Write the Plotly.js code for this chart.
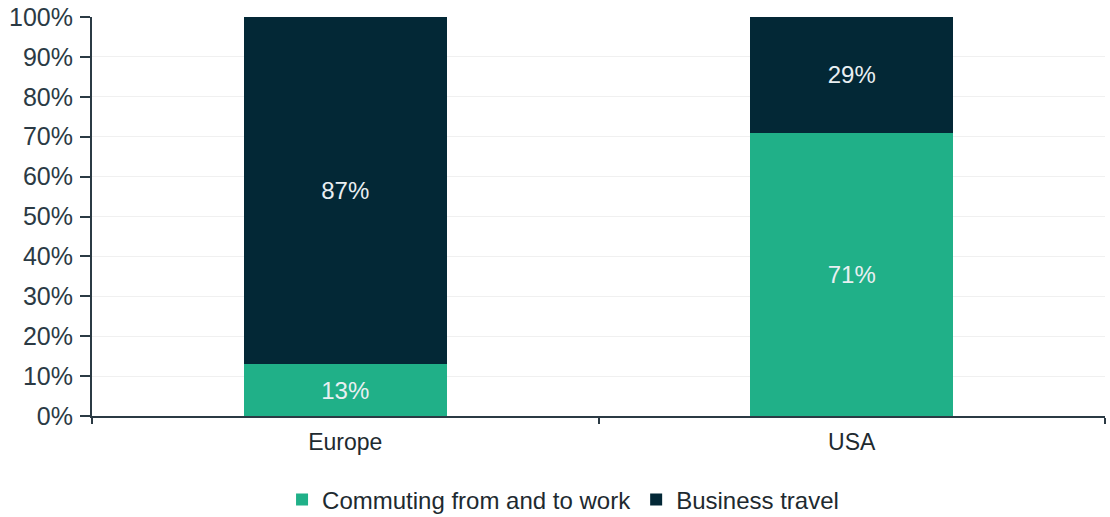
<!DOCTYPE html>
<html>
<head>
<meta charset="utf-8">
<script src="https://cdn.plot.ly/plotly-3.0.1.min.js"></script>
<style>html,body{margin:0;padding:0;background:#fff;}#chart{width:1110px;height:517px;}</style>
</head>
<body>
<div id="chart"></div>
<script>
const categories = ["Europe", "USA"];
const seriesNames = ["Commuting from and to work", "Business travel"];
const commuting = [13, 71];
const business = [87, 29];
const yTicks = [0, 10, 20, 30, 40, 50, 60, 70, 80, 90, 100];
const yTickLabels = yTicks.map(v => v + "%");

const FONT = "Liberation Sans, Arial, sans-serif";
const colors = ["#20b088", "#032836"];

const mk = (name, vals, color) => ({
  type: "bar",
  name: name,
  x: categories,
  y: vals,
  width: 0.4,
  marker: {color: color, line: {width: 0}},
  text: vals.map(v => v + "%"),
  textposition: "inside",
  insidetextanchor: "middle",
  textangle: 0,
  textfont: {family: FONT, size: 24, color: "#e9eff2"},
  hoverinfo: "none"
});

const data = [
  mk(seriesNames[0], commuting, colors[0]),
  mk(seriesNames[1], business, colors[1])
];

const layout = {
  width: 1110, height: 517,
  margin: {l: 92, r: 5, t: 17, b: 101, autoexpand: false},
  barmode: "stack",
  paper_bgcolor: "#ffffff",
  plot_bgcolor: "#ffffff",
  font: {family: FONT, size: 22, color: "#2b3a44"},
  showlegend: true,
  legend: {
    orientation: "h", x: 0.465, xanchor: "center", y: -0.21, yanchor: "middle",
    font: {family: FONT, size: 24, color: "#1e2a30"},
    traceorder: "normal", itemwidth: 30
  },
  xaxis: {
    type: "category",
    range: [-0.5, 1.5],
    automargin: false,
    showgrid: false,
    showline: true, linecolor: "#2b3a44", linewidth: 2,
    ticks: "outside", tickson: "boundaries", ticklen: 6, tickcolor: "#2b3a44", tickwidth: 2,
    tickfont: {family: FONT, size: 23, color: "#1e2a30"},
    ticklabelstandoff: 4,
    fixedrange: true
  },
  yaxis: {
    range: [0, 100],
    automargin: false,
    tickvals: yTicks,
    ticktext: yTickLabels,
    showgrid: true, gridcolor: "#f0f0f0", gridwidth: 1,
    zeroline: false,
    showline: true, linecolor: "#2b3a44", linewidth: 2,
    ticks: "outside", ticklen: 10, tickcolor: "#2b3a44", tickwidth: 2,
    tickfont: {family: FONT, size: 25, color: "#2b3a44"},
    ticklabelstandoff: 2,
    fixedrange: true
  }
};

Plotly.newPlot("chart", data, layout, {displayModeBar: false, staticPlot: true});
</script>
</body>
</html>
